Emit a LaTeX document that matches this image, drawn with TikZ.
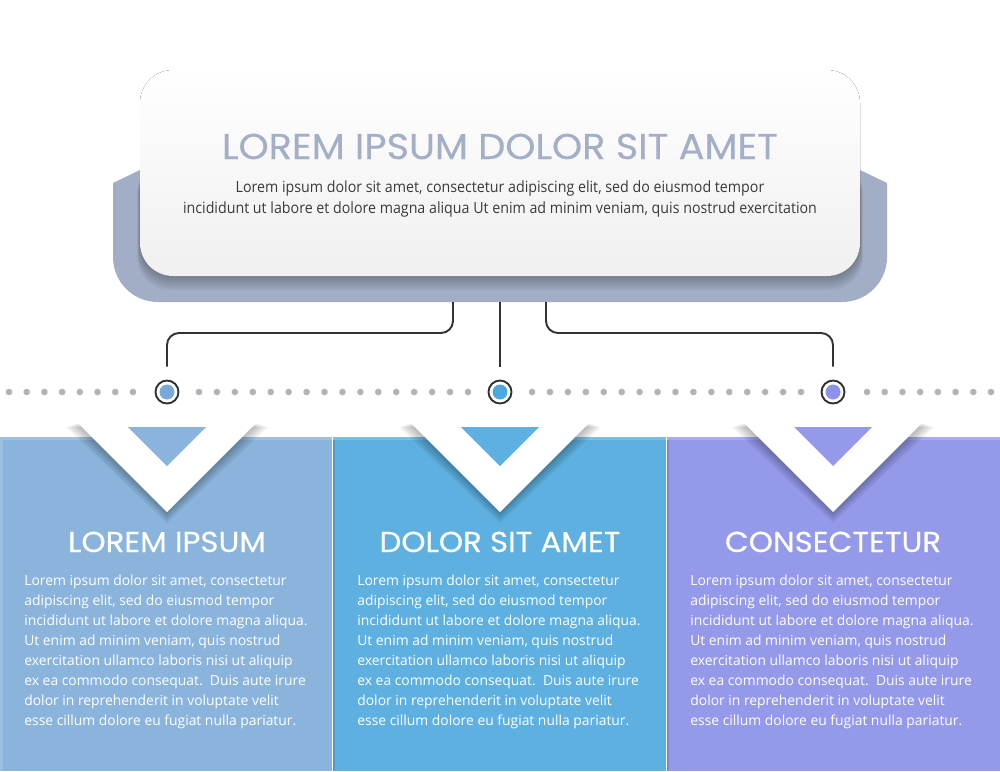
\documentclass[tikz,border=0pt]{standalone}
\usepackage{fontspec}
\setmainfont{Open Sans}
\newfontfamily\headfont[FakeStretch=1.07,FakeBold=0.35]{Poppins}
\newfontfamily\condfont[FakeStretch=0.92]{Open Sans}
\definecolor{greyback}{HTML}{A2AEC6}
\definecolor{titlecol}{HTML}{A3AFC7}
\definecolor{pone}{HTML}{8AB4DB}
\definecolor{ptwo}{HTML}{5DB0E0}
\definecolor{pthree}{HTML}{9599EA}
\definecolor{done}{HTML}{79A8DA}
\definecolor{dtwo}{HTML}{4DA8DE}
\definecolor{dthree}{HTML}{8F92EA}
\definecolor{dotgrey}{HTML}{B3B3B3}
\definecolor{linecol}{HTML}{333333}
\definecolor{bodydark}{HTML}{3A3A3A}
\newcommand{\panelbody}{Lorem ipsum dolor sit amet, consectetur\\
adipiscing elit, sed do eiusmod tempor\\
incididunt ut labore et dolore magna aliqua.\\
Ut enim ad minim veniam, quis nostrud\\
exercitation ullamco laboris nisi ut aliquip\\
ex ea commodo consequat.\ \ Duis aute irure\\
dolor in reprehenderit in voluptate velit\\
esse cillum dolore eu fugiat nulla pariatur.}
\begin{document}
\begin{tikzpicture}[x=0.02cm,y=-0.02cm,
  conn/.style={draw=linecol, line width=1.1pt, rounded corners=0.24cm, shorten >=0.26cm},
  ring/.style={circle, draw=linecol, line width=1.1pt, fill=white, minimum size=0.46cm, inner sep=0pt,
    path picture={\fill[#1] (path picture bounding box.center) circle (0.15cm);}},
  greydot/.style={fill=dotgrey},
  panelhead/.style={text=white, font=\headfont\fontsize{16.4}{19}\selectfont, inner sep=0pt, anchor=base},
  panelbodystyle/.style={text=white, font=\fontsize{7.9}{11.38}\selectfont, align=left, inner sep=0pt, anchor=north west},
  shadowlayer/.style={fill=black, opacity=0.04},
]
\useasboundingbox (0,0) rectangle (1000,771);
\fill[white] (0,0) rectangle (1000,771);

% grey backing of the top card
\fill[greyback] (113,183) -- (140,170) -- (860,170) -- (887,183) -- (887,257)
  .. controls (887,282) and (867,302) .. (842,302) -- (158,302)
  .. controls (133,302) and (113,282) .. (113,257) -- cycle;
% shadow of the card on the grey backing
\foreach \i in {1,...,7} {
  \fill[shadowlayer, rounded corners=0.66cm] ({140-0.4*\i},160) rectangle ({860+0.4*\i},{276+2*\i});
}
% white top card
\fill[white, rounded corners=0.66cm] (140,70) rectangle (860,276);
\fill[top color=white, bottom color=white!94!black, rounded corners=0.66cm] (140,70) rectangle (860,276);
\node[text=titlecol, font=\headfont\fontsize{20.4}{23}\selectfont, inner sep=0pt, anchor=base] (title) at (500,159) {LOREM IPSUM DOLOR SIT AMET};
\node[text=bodydark, font=\condfont\fontsize{8.8}{11.95}\selectfont, align=center, inner sep=0pt, anchor=north] (intro) at (500,180)
  {Lorem ipsum dolor sit amet, consectetur adipiscing elit, sed do eiusmod tempor\\
   incididunt ut labore et dolore magna aliqua Ut enim ad minim veniam, quis nostrud exercitation};

% connector start points
\coordinate (s1) at (453,302);
\coordinate (s2) at (500,302);
\coordinate (s3) at (546,302);

% dotted line
\foreach \k in {0,...,7} {
  \fill[greydot] ({9+17.71*\k},392) circle (0.066cm);
  \fill[greydot] ({991-17.71*\k},392) circle (0.066cm);
}
\foreach \k in {0,...,15} {
  \fill[greydot] ({199+17.93*\k},392) circle (0.066cm);
  \fill[greydot] ({801-17.93*\k},392) circle (0.066cm);
}

% rings
\node[ring=done] (c1) at (167,392) {};
\node[ring=dtwo] (c2) at (500,392) {};
\node[ring=dthree] (c3) at (833,392) {};

% connectors
\draw[conn] (s1) -- ++(0,31) -| (c1);
\draw[conn] (s2) -- (c2);
\draw[conn] (s3) -- ++(0,31) -| (c3);

% panels
\fill[pthree] (667,437) rectangle (1000,771);
\fill[ptwo] (333,437) rectangle (666,771);
\fill[pone] (0,437) rectangle (332,771);
\fill[white, opacity=0.18] (0,437) rectangle (332,440);
\fill[white, opacity=0.18] (333,437) rectangle (666,440);
\fill[white, opacity=0.18] (667,437) rectangle (1000,440);
\fill[white, opacity=0.15] (0,440) rectangle (3,771);
\fill[black, opacity=0.12] (333,440) rectangle (335,771);
\fill[black, opacity=0.12] (667,440) rectangle (669,771);

% chevrons with soft shadows
\foreach \cx/\col in {167/pone, 500/ptwo, 833/pthree} {
  \foreach \i in {1,...,7} {
    \fill[shadowlayer] ({\cx-90-1.6*\i},{423+0.6*\i}) -- ({\cx+90+1.6*\i},{423+0.6*\i}) -- (\cx,{512+1.6*\i}) -- cycle;
  }
  \fill[white] (\cx-90,422) -- (\cx+90,422) -- (\cx,512) -- cycle;
  \fill[\col] (\cx-39,427) -- (\cx+39,427) -- (\cx,466) -- cycle;
}

% panel titles
\node[panelhead] (h1) at (167,552) {LOREM IPSUM};
\node[panelhead] (h2) at (500,552) {DOLOR SIT AMET};
\node[panelhead] (h3) at (833,552) {CONSECTETUR};

% panel texts
\node[panelbodystyle] (b1) at (24,575) {\panelbody};
\node[panelbodystyle] (b2) at (357,575) {\panelbody};
\node[panelbodystyle] (b3) at (690,575) {\panelbody};
\end{tikzpicture}
\end{document}
